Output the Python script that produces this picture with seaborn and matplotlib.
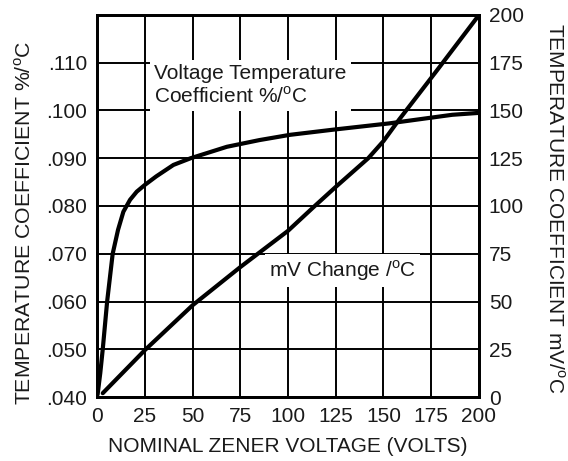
import pandas as pd
import matplotlib
matplotlib.use('Agg')
import matplotlib.pyplot as plt
import seaborn as sns

# Voltage temperature coefficient (%/oC), left axis
vtc_volts = [0.3, 1.7, 3, 5.3, 8.2, 11, 13.8, 17.3, 20.8, 25, 31, 40, 49, 68, 85, 101, 124, 153, 186, 200]
vtc_pct = [.0405, .045, .050, .060, .070, .075, .0788, .0813, .0830, .0844, .0862, .0886, .0900,
           .0924, .0938, .0949, .0960, .0973, .0991, .0995]

# mV change per oC, right axis
mv_volts = [3, 25, 50, 75, 100, 114, 125, 142, 150, 158, 178, 200]
mv_change = [2, 24.5, 48, 68, 87, 100, 110, 125, 134, 145, 171, 200]

x_ticks = [0, 25, 50, 75, 100, 125, 150, 175, 200]
left_ticks = [.040, .050, .060, .070, .080, .090, .100, .110]
left_labels = ['.040', '.050', '.060', '.070', '.080', '.090', '.100', '.110']
right_ticks = [0, 25, 50, 75, 100, 125, 150, 175, 200]

sns.set_theme(style='white', rc={'axes.grid': True, 'grid.color': 'black',
                                 'grid.linewidth': 1.4, 'axes.axisbelow': True})
plt.rcParams['font.family'] = ['Liberation Sans', 'DejaVu Sans']
plt.rcParams['mathtext.fontset'] = 'custom'
plt.rcParams['mathtext.rm'] = 'Liberation Sans'

df_vtc = pd.DataFrame({'volts': vtc_volts, 'val': vtc_pct})
df_mv = pd.DataFrame({'volts': mv_volts, 'val': mv_change})

fig = plt.figure(figsize=(5.68, 4.61), dpi=100)
ax = fig.add_axes([0.1708, 0.1388, 0.6725, 0.8287])
ax2 = ax.twinx()
ax2.grid(False)

fs = 15
txt = '#1a1a1a'

sns.lineplot(data=df_vtc, x='volts', y='val', ax=ax, color='black', lw=3, sort=False, zorder=5)
sns.lineplot(data=df_mv, x='volts', y='val', ax=ax2, color='black', lw=3, sort=False, zorder=5)

ax.set_xlim(0, 200)
ax.set_ylim(.040, .120)
ax2.set_ylim(0, 200)

ax.set_xticks(x_ticks)
ax.set_xticklabels([str(t) for t in x_ticks], fontsize=fs)
ax.set_yticks(left_ticks)
ax.set_yticklabels(left_labels, fontsize=fs)
ax2.set_yticks(right_ticks)
ax2.set_yticklabels([str(t) for t in right_ticks], fontsize=fs)

ax.tick_params(axis='both', length=0, pad=7, colors=txt)
ax2.tick_params(axis='y', length=0, pad=7, colors=txt)

ax.grid(True, color='black', linewidth=1.4)
for a in (ax, ax2):
    for sp in a.spines.values():
        sp.set_color('black')
        sp.set_linewidth(2)

ax.set_xlabel('NOMINAL ZENER VOLTAGE (VOLTS)', fontsize=fs, labelpad=8, color=txt)
ax.set_ylabel(r'TEMPERATURE COEFFICIENT %/$^{\mathrm{o}}$C', fontsize=15.3, color=txt)
ax.yaxis.set_label_coords(-0.162, 0.457)
ax2.set_ylabel(r'TEMPERATURE COEFFICIENT mV/$^{\mathrm{o}}$C', fontsize=fs, rotation=270,
               va='bottom', color=txt)
ax2.yaxis.set_label_coords(1.172, 0.4935)

ax2.text(30, 163, 'Voltage Temperature\n' + r'Coefficient %/$^{\mathrm{o}}$C', fontsize=fs,
         va='center', ha='left', color=txt, zorder=4,
         bbox=dict(facecolor='white', edgecolor='none', pad=3))
ax2.text(90, 66, r'mV Change /$^{\mathrm{o}}$C', fontsize=fs, va='center', ha='left',
         color=txt, zorder=4, bbox=dict(facecolor='white', edgecolor='none', pad=3))

fig.savefig('out.png', dpi=100)
